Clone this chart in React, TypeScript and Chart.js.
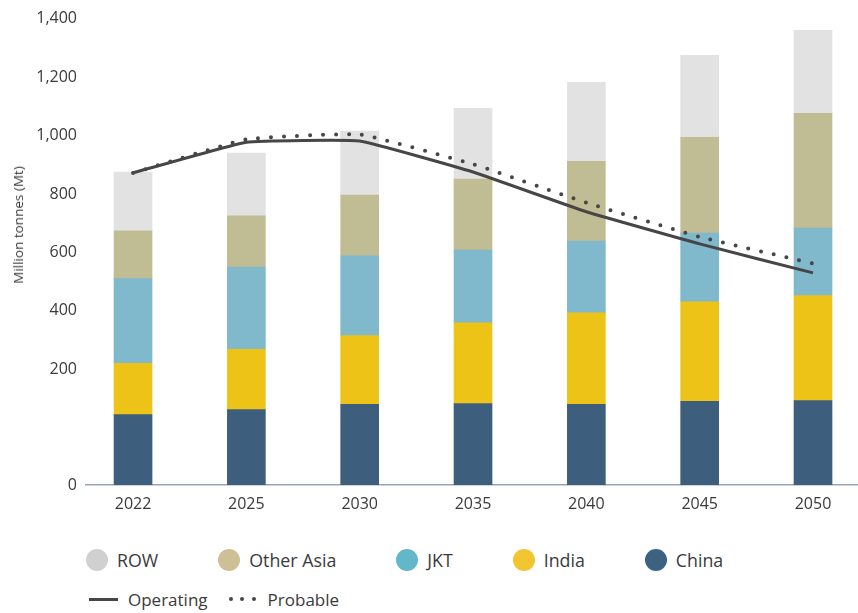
import React, { useEffect, useRef } from "react";
import { Chart, registerables } from "chart.js";

Chart.register(...registerables);

const YEARS = ["2022", "2025", "2030", "2035", "2040", "2045", "2050"];
const CHINA = [45, 62, 80, 83, 80, 90, 93];
const INDIA = [175, 206, 235, 276, 313, 341, 359];
const JKT = [290, 282, 273, 249, 246, 235, 231];
const OTHER_ASIA = [164, 175, 208, 243, 273, 328, 393];
const ROW = [201, 215, 219, 242, 270, 280, 284];
const OPERATING = [872, 977, 981, 875, 739, 629, 530];
const PROBABLE = [872, 987, 1004, 902, 770, 653, 562];
const Y_TICKS = [200, 400, 600, 800, 1000, 1200, 1400];
const Y_MIN = -196;
const Y_MAX = 1400;

const FONT = "'Open Sans', sans-serif";
const TEXT = "#3a3a3a";

const BAR_COLORS = {
  China: "#3d5e7c",
  India: "#eec318",
  JKT: "#7fb9cb",
  "Other Asia": "#c0bd94",
  ROW: "#e2e2e2",
};
const LEGEND_COLORS = {
  ROW: "#d0d0d0",
  "Other Asia": "#cdc096",
  JKT: "#62b8c9",
  India: "#f2c531",
  China: "#3d6180",
};

const pts = (arr: number[]) => arr.map((y, i) => ({ x: i, y }));

export default function App() {
  const ref = useRef<HTMLCanvasElement | null>(null);

  useEffect(() => {
    if (!ref.current) return;
    const barDs = (label: string, data: number[], extra: any = {}) => ({
      type: "bar" as const,
      label,
      data: pts(data),
      backgroundColor: (BAR_COLORS as any)[label],
      borderWidth: 0,
      barThickness: 38,
      stack: "bars",
      order: 2,
      ...extra,
    });
    const chart = new Chart(ref.current, {
      type: "bar",
      data: {
        datasets: [
          {
            type: "line",
            label: "Operating",
            data: pts(OPERATING),
            borderColor: "#464646",
            borderWidth: 3,
            pointRadius: 0,
            tension: 0.1,
            stack: "operating",
            order: 0,
          } as any,
          {
            type: "line",
            label: "Probable",
            data: pts(PROBABLE),
            borderColor: "#464646",
            borderWidth: 4,
            borderDash: [0, 13],
            borderCapStyle: "round",
            pointRadius: 0,
            tension: 0.1,
            stack: "probable",
            order: 0,
          } as any,
          barDs("China", CHINA, { base: Y_MIN }),
          barDs("India", INDIA),
          barDs("JKT", JKT),
          barDs("Other Asia", OTHER_ASIA),
          barDs("ROW", ROW),
        ],
      },
      options: {
        animation: false,
        responsive: false,
        maintainAspectRatio: false,
        layout: { padding: { left: 0, right: 0, top: 17, bottom: 0 } },
        plugins: { legend: { display: false }, tooltip: { enabled: false } },
        scales: {
          x: {
            type: "linear",
            stacked: true,
            offset: false,
            min: -0.415,
            max: 6.397,
            grid: { display: false, drawTicks: false, offset: false },
            border: { display: true, color: "#9aa3b5", width: 1.5 },
            afterBuildTicks: (s: any) => {
              s.ticks = YEARS.map((_, i) => ({ value: i }));
            },
            afterFit: (s: any) => {
              s.height = 45;
            },
            ticks: {
              padding: 10,
              color: TEXT,
              font: { family: FONT, size: 16 },
              callback: (v: any) => YEARS[v as number] ?? "",
              maxRotation: 0,
            },
          },
          y: {
            type: "linear",
            stacked: true,
            min: Y_MIN,
            max: Y_MAX,
            grid: { display: false, drawTicks: false },
            border: { display: false },
            afterBuildTicks: (s: any) => {
              s.ticks = [Y_MIN, ...Y_TICKS].map((v) => ({ value: v }));
            },
            afterFit: (s: any) => {
              s.width = 86;
            },
            ticks: {
              padding: 9,
              color: TEXT,
              font: { family: FONT, size: 16 },
              callback: (v: any) =>
                v === Y_MIN ? "0" : Number(v).toLocaleString("en-US"),
            },
          },
        },
      },
    });
    return () => chart.destroy();
  }, []);

  const legendItems = ["ROW", "Other Asia", "JKT", "India", "China"];

  return (
    <div
      style={{
        position: "absolute",
        left: 0,
        top: 0,
        width: 858,
        height: 613,
        background: "#fff",
        fontFamily: FONT,
        color: TEXT,
      }}
    >
      <canvas
        ref={ref}
        width={858}
        height={530}
        style={{ position: "absolute", left: 0, top: 0, width: 858, height: 530 }}
      />
      <div
        style={{
          position: "absolute",
          left: 18,
          top: 225,
          transform: "translate(-50%, -50%) rotate(-90deg)",
          whiteSpace: "nowrap",
          fontSize: 13.5,
          lineHeight: "16px",
        }}
      >
        Million tonnes (Mt)
      </div>
      <div
        style={{
          position: "absolute",
          left: 86,
          top: 548,
          height: 24,
          display: "flex",
          alignItems: "center",
          gap: 60,
          fontSize: 17.8,
          whiteSpace: "nowrap",
        }}
      >
        {legendItems.map((k) => (
          <div key={k} style={{ display: "flex", alignItems: "center", gap: 9 }}>
            <span
              style={{
                display: "inline-block",
                width: 22,
                height: 22,
                borderRadius: "50%",
                background: (LEGEND_COLORS as any)[k],
              }}
            />
            <span>{k}</span>
          </div>
        ))}
      </div>
      <div
        style={{
          position: "absolute",
          left: 89,
          top: 587,
          height: 24,
          display: "flex",
          alignItems: "center",
          fontSize: 17,
          whiteSpace: "nowrap",
        }}
      >
        <span style={{ display: "inline-block", width: 29, height: 3, background: "#464646" }} />
        <span style={{ marginLeft: 10 }}>Operating</span>
        <span style={{ marginLeft: 21, display: "flex", gap: 7.5 }}>
          {[0, 1, 2].map((i) => (
            <span
              key={i}
              style={{
                display: "inline-block",
                width: 4,
                height: 4,
                borderRadius: "50%",
                background: "#464646",
              }}
            />
          ))}
        </span>
        <span style={{ marginLeft: 12 }}>Probable</span>
      </div>
    </div>
  );
}
